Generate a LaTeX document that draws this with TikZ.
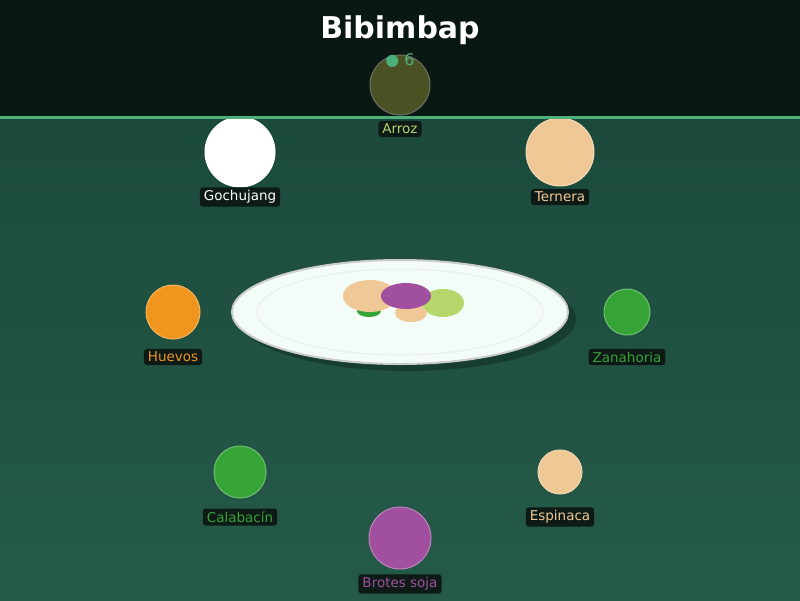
\documentclass[tikz,border=0pt]{standalone}
\usepackage{fontspec}
\setmainfont{DejaVu Sans}
\definecolor{topbg}{HTML}{0A1814}
\definecolor{bgtop}{HTML}{1B4A3C}
\definecolor{bgbot}{HTML}{255A48}
\definecolor{accent}{HTML}{4CAF7A}
\definecolor{tagbg}{HTML}{0D1A16}
\definecolor{rice}{HTML}{4A5224}
\definecolor{beef}{HTML}{F0C896}
\definecolor{egg}{HTML}{F0961E}
\definecolor{veg}{HTML}{36A336}
\definecolor{sprout}{HTML}{A0509F}
\definecolor{lime}{HTML}{B5D66A}
\definecolor{plate}{HTML}{F4FCF8}
\tikzset{
  item/.style={circle, draw=#1!70!white, line width=1pt, fill=#1, inner sep=0pt},
  tag/.style={fill=tagbg, rounded corners=3pt, inner xsep=4pt, inner ysep=3pt, font=\fontsize{13.5}{15}\selectfont, text=#1}
}
\begin{document}
\begin{tikzpicture}[x=1pt, y=-1pt]
        \useasboundingbox (0,0) rectangle (800,600);
        \shade[top color=bgtop, bottom color=bgbot] (0,116) rectangle (800,600);
        \fill[topbg] (0,0) rectangle (800,116);
        \node (title) at (400,30) {\fontsize{30}{32}\selectfont\bfseries\color{white}Bibimbap};
        % plate
        \fill[black, opacity=0.25] (408,319) ellipse (168pt and 52pt);
        \filldraw[fill=plate, draw=gray!40, line width=2pt] (400,312) ellipse (168pt and 52pt);
        \draw[gray!15, line width=1pt] (400,312) ellipse (143pt and 43pt);
        \fill[veg] (369,311) ellipse (12pt and 6pt);
        \fill[beef] (370,296) ellipse (27pt and 16pt);
        \fill[lime] (443,303) ellipse (21pt and 14pt);
        \fill[beef] (411,313) ellipse (16pt and 9pt);
        \fill[sprout] (406,296) ellipse (25pt and 13pt);
        % ingredients
        \node[item=rice, minimum size=60pt, draw=gray!70!rice] (arroz) at (400,85) {};
        \node (count) at (400,61) {\fontsize{16}{17}\selectfont\color{accent}● 6};
        \node[item=white, minimum size=70pt] (gochujang) at (240,152) {};
        \node[item=beef, minimum size=68pt] (ternera) at (560,152) {};
        \draw[accent, line width=3pt] (0,117) -- (800,117);
        \node[item=egg, minimum size=54pt] (huevos) at (173,312) {};
        \node[item=veg, minimum size=46pt] (zanahoria) at (627,312) {};
        \node[item=veg, minimum size=52pt] (calabacin) at (240,472) {};
        \node[item=beef, minimum size=44pt] (espinaca) at (560,472) {};
        \node[item=sprout, minimum size=62pt] (brotes) at (400,538) {};
        % labels
        \node[tag=lime] (arrozlbl) at (400,129) {Arroz};
        \node[tag=white] (gochujanglbl) at (240,197) {Gochujang};
        \node[tag=beef] (terneralbl) at (560,197) {Ternera};
        \node[tag=egg] (huevoslbl) at (173,357) {Huevos};
        \node[tag=veg] (zanahorialbl) at (627,357) {Zanahoria};
        \node[tag=veg] (calabacinlbl) at (240,517) {Calabacín};
        \node[tag=beef] (espinacalbl) at (560,517) {Espinaca};
        \node[tag=sprout] (broteslbl) at (400,584) {Brotes soja};
\end{tikzpicture}
\end{document}
